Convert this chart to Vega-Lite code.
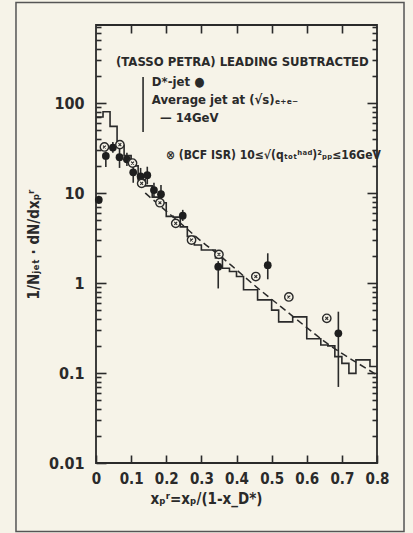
{
  "$schema": "https://vega.github.io/schema/vega-lite/v6.json",
  "width": 281,
  "height": 438,
  "autosize": {"type": "none"},
  "padding": {"left": 96, "top": 25, "right": 36, "bottom": 70},
  "background": "#f6f3e8",
  "config": {
    "view": {"stroke": "#2a2a2a", "strokeWidth": 1.8, "fill": "#f6f3e8"},
    "font": "'DejaVu Sans Condensed', Roboto, sans-serif",
    "axis": {
      "domain": false,
      "grid": false,
      "tickColor": "#2a2a2a",
      "tickWidth": 1.6,
      "labelColor": "#2a2a2a",
      "titleColor": "#2a2a2a",
      "labelFont": "'DejaVu Sans Condensed', Roboto, sans-serif",
      "labelFontWeight": "bold",
      "labelFontSize": 16,
      "labelOverlap": false,
      "labelFlush": false,
      "titleFont": "'DejaVu Sans Condensed', Roboto, sans-serif",
      "titleFontWeight": "bold",
      "titleFontSize": 15
    }
  },
  "datasets": {
    "hist": [
      {"x": 0.00, "h": 70}, {"x": 0.02, "h": 80}, {"x": 0.04, "h": 55}, {"x": 0.06, "h": 34},
      {"x": 0.08, "h": 26}, {"x": 0.10, "h": 20}, {"x": 0.12, "h": 14}, {"x": 0.14, "h": 12},
      {"x": 0.16, "h": 9}, {"x": 0.18, "h": 7.8}, {"x": 0.20, "h": 5.5}, {"x": 0.22, "h": 5.4},
      {"x": 0.24, "h": 4.2}, {"x": 0.26, "h": 3.3}, {"x": 0.28, "h": 2.64}, {"x": 0.30, "h": 2.33},
      {"x": 0.32, "h": 2.33}, {"x": 0.34, "h": 1.9}, {"x": 0.36, "h": 1.46}, {"x": 0.38, "h": 1.34},
      {"x": 0.40, "h": 1.18}, {"x": 0.42, "h": 0.84}, {"x": 0.44, "h": 0.84}, {"x": 0.46, "h": 0.65},
      {"x": 0.48, "h": 0.65}, {"x": 0.50, "h": 0.5}, {"x": 0.52, "h": 0.37}, {"x": 0.54, "h": 0.37},
      {"x": 0.56, "h": 0.42}, {"x": 0.58, "h": 0.42}, {"x": 0.60, "h": 0.24}, {"x": 0.62, "h": 0.24},
      {"x": 0.64, "h": 0.205}, {"x": 0.66, "h": 0.2}, {"x": 0.68, "h": 0.152}, {"x": 0.70, "h": 0.128},
      {"x": 0.72, "h": 0.099}, {"x": 0.74, "h": 0.14}, {"x": 0.76, "h": 0.14}, {"x": 0.78, "h": 0.118},
      {"x": 0.80, "h": 0.118}
    ],
    "curve": [
      {"x": 0.14, "v": 10}, {"x": 0.2, "v": 6.3}, {"x": 0.25, "v": 4.3}, {"x": 0.3, "v": 2.9},
      {"x": 0.35, "v": 2.05}, {"x": 0.4, "v": 1.4}, {"x": 0.45, "v": 0.95}, {"x": 0.5, "v": 0.66},
      {"x": 0.55, "v": 0.46}, {"x": 0.6, "v": 0.32}, {"x": 0.65, "v": 0.225}, {"x": 0.7, "v": 0.165},
      {"x": 0.75, "v": 0.125}, {"x": 0.8, "v": 0.095}
    ],
    "jet": [
      {"x": 0.008, "y": 8.4, "lo": 7.6, "hi": 9.3},
      {"x": 0.028, "y": 25.8, "lo": 19.5, "hi": 29},
      {"x": 0.048, "y": 32, "lo": 28, "hi": 37},
      {"x": 0.067, "y": 25, "lo": 19, "hi": 31},
      {"x": 0.088, "y": 23.7, "lo": 20, "hi": 28},
      {"x": 0.106, "y": 17, "lo": 13, "hi": 21},
      {"x": 0.127, "y": 15.3, "lo": 11.5, "hi": 19},
      {"x": 0.146, "y": 15.8, "lo": 12.5, "hi": 19.6},
      {"x": 0.165, "y": 10.8, "lo": 9, "hi": 13},
      {"x": 0.185, "y": 9.7, "lo": 7.7, "hi": 12.3},
      {"x": 0.247, "y": 5.6, "lo": 4.9, "hi": 6.5},
      {"x": 0.348, "y": 1.52, "lo": 0.87, "hi": 1.75},
      {"x": 0.489, "y": 1.58, "lo": 1.1, "hi": 2.14},
      {"x": 0.69, "y": 0.276, "lo": 0.07, "hi": 0.48}
    ],
    "bcf": [
      {"x": 0.024, "y": 32.5}, {"x": 0.068, "y": 34.5}, {"x": 0.104, "y": 21.5},
      {"x": 0.13, "y": 12.8}, {"x": 0.182, "y": 7.8}, {"x": 0.227, "y": 4.6},
      {"x": 0.272, "y": 3.0}, {"x": 0.35, "y": 2.08}, {"x": 0.455, "y": 1.18},
      {"x": 0.549, "y": 0.7}, {"x": 0.657, "y": 0.405}
    ],
    "notes": [
      {"x": 0.057, "y": 285, "t": "(TASSO PETRA) LEADING SUBTRACTED"},
      {"x": 0.159, "y": 171, "t": "D*-jet ●"},
      {"x": 0.159, "y": 108, "t": "Average jet at (√s)ₑ₊ₑ₋"},
      {"x": 0.182, "y": 68, "t": "— 14GeV"}
    ],
    "notes2": [
      {"x": 0.199, "y": 26.4, "t": "⊗ (BCF ISR) 10≤√(qₜₒₜʰᵃᵈ)²ₚₚ≤16GeV"}
    ],
    "bracket": [
      {"x": 0.134, "y": 194, "y2": 47.6}
    ]
  },
  "layer": [
    {
      "data": {"values": [{}]},
      "mark": {"type": "rect", "filled": false, "stroke": "#555555", "strokeWidth": 1.5, "clip": false},
      "encoding": {
        "x": {"datum": -0.2278, "type": "quantitative", "scale": {"domain": [0, 0.8], "nice": false, "zero": false}, "axis": null},
        "x2": {"datum": 0.8769},
        "y": {"datum": 1309, "type": "quantitative", "scale": {"type": "log", "domain": [0.01, 736], "nice": false}, "axis": null},
        "y2": {"datum": 0.001734}
      }
    },
    {
      "data": {"name": "hist"},
      "mark": {"type": "line", "interpolate": "step-after", "stroke": "#2a2a2a", "strokeWidth": 1.6},
      "encoding": {
        "x": {"field": "x", "type": "quantitative", "scale": {"domain": [0, 0.8], "nice": false, "zero": false},
          "axis": {"orient": "bottom", "values": [0, 0.1, 0.2, 0.3, 0.4, 0.5, 0.6, 0.7, 0.8], "tickSize": -8, "labelPadding": 16,
            "labelFontSize": 15,
            "labelExpr": "datum.value == 0 ? '0' : format(datum.value, '.1f')",
            "title": "xₚʳ=xₚ/(1-x_D*)", "titleX": 110, "titlePadding": 5}},
        "y": {"field": "h", "type": "quantitative", "scale": {"type": "log", "domain": [0.01, 736], "nice": false},
          "axis": {"orient": "left",
            "values": [0.01, 0.02, 0.03, 0.04, 0.05, 0.06, 0.07, 0.08, 0.09, 0.1, 0.2, 0.3, 0.4, 0.5, 0.6, 0.7, 0.8, 0.9, 1, 2, 3, 4, 5, 6, 7, 8, 9, 10, 20, 30, 40, 50, 60, 70, 80, 90, 100, 200, 300, 400, 500, 600, 700],
            "tickSize": {"condition": {"test": "indexof([0.01,0.1,1,10,100], datum.value) >= 0", "value": -10}, "value": -5},
            "labelExpr": "datum.value == 100 ? '100' : datum.value == 10 ? '10' : datum.value == 1 ? '1' : datum.value == 0.1 ? '0.1' : datum.value == 0.01 ? '0.01' : ''",
            "labelPadding": 22,
            "title": "1/Nⱼₑₜ · dN/dxₚʳ", "titlePadding": 7}}
      }
    },
    {
      "data": {"name": "curve"},
      "mark": {"type": "line", "interpolate": "monotone", "stroke": "#2a2a2a", "strokeWidth": 1.5, "strokeDash": [7, 4]},
      "encoding": {
        "x": {"field": "x", "type": "quantitative", "scale": {"domain": [0, 0.8], "nice": false, "zero": false},
          "axis": {"orient": "top", "values": [0.1, 0.2, 0.3, 0.4, 0.5, 0.6, 0.7], "tickSize": -8, "labels": false, "title": null}},
        "y": {"field": "v", "type": "quantitative", "scale": {"type": "log", "domain": [0.01, 736], "nice": false},
          "axis": {"orient": "right",
            "values": [0.02, 0.03, 0.04, 0.05, 0.06, 0.07, 0.08, 0.09, 0.1, 0.2, 0.3, 0.4, 0.5, 0.6, 0.7, 0.8, 0.9, 1, 2, 3, 4, 5, 6, 7, 8, 9, 10, 20, 30, 40, 50, 60, 70, 80, 90, 100, 200, 300, 400, 500, 600, 700],
            "tickSize": {"condition": {"test": "indexof([0.01,0.1,1,10,100], datum.value) >= 0", "value": -10}, "value": -5},
            "labels": false, "title": null}}
      }
    },
    {
      "data": {"name": "jet"},
      "mark": {"type": "rule", "stroke": "#2a2a2a", "strokeWidth": 1.6},
      "encoding": {
        "x": {"field": "x", "type": "quantitative", "axis": null},
        "y": {"field": "lo", "type": "quantitative", "axis": null},
        "y2": {"field": "hi"}
      }
    },
    {
      "data": {"name": "jet"},
      "mark": {"type": "point", "shape": "circle", "filled": true, "fill": "#1e1e1e", "size": 60, "opacity": 1},
      "encoding": {
        "x": {"field": "x", "type": "quantitative", "axis": null},
        "y": {"field": "y", "type": "quantitative", "axis": null}
      }
    },
    {
      "data": {"name": "bcf"},
      "mark": {"type": "point", "shape": "circle", "filled": true, "fill": "#f6f3e8", "stroke": "#2a2a2a", "strokeWidth": 1.4, "size": 70, "opacity": 1},
      "encoding": {
        "x": {"field": "x", "type": "quantitative", "axis": null},
        "y": {"field": "y", "type": "quantitative", "axis": null}
      }
    },
    {
      "data": {"name": "bcf"},
      "mark": {"type": "point", "shape": "M-0.6,-0.6L0.6,0.6M-0.6,0.6L0.6,-0.6", "filled": false, "stroke": "#2a2a2a", "strokeWidth": 1.1, "size": 22, "opacity": 1},
      "encoding": {
        "x": {"field": "x", "type": "quantitative", "axis": null},
        "y": {"field": "y", "type": "quantitative", "axis": null}
      }
    },
    {
      "data": {"name": "bracket"},
      "mark": {"type": "rule", "stroke": "#2a2a2a", "strokeWidth": 1.6},
      "encoding": {
        "x": {"field": "x", "type": "quantitative", "axis": null},
        "y": {"field": "y", "type": "quantitative", "axis": null},
        "y2": {"field": "y2"}
      }
    },
    {
      "data": {"name": "notes"},
      "mark": {"type": "text", "align": "left", "baseline": "middle", "font": "'DejaVu Sans Condensed', Roboto, sans-serif", "fontWeight": "bold", "fontSize": 13, "fill": "#2a2a2a"},
      "encoding": {
        "x": {"field": "x", "type": "quantitative", "axis": null},
        "y": {"field": "y", "type": "quantitative", "axis": null},
        "text": {"field": "t"}
      }
    },
    {
      "data": {"name": "notes2"},
      "mark": {"type": "text", "align": "left", "baseline": "middle", "font": "'DejaVu Sans Condensed', Roboto, sans-serif", "fontWeight": "bold", "fontSize": 12, "fill": "#2a2a2a"},
      "encoding": {
        "x": {"field": "x", "type": "quantitative", "axis": null},
        "y": {"field": "y", "type": "quantitative", "axis": null},
        "text": {"field": "t"}
      }
    }
  ],
  "resolve": {"axis": {"x": "independent", "y": "independent"}}
}
